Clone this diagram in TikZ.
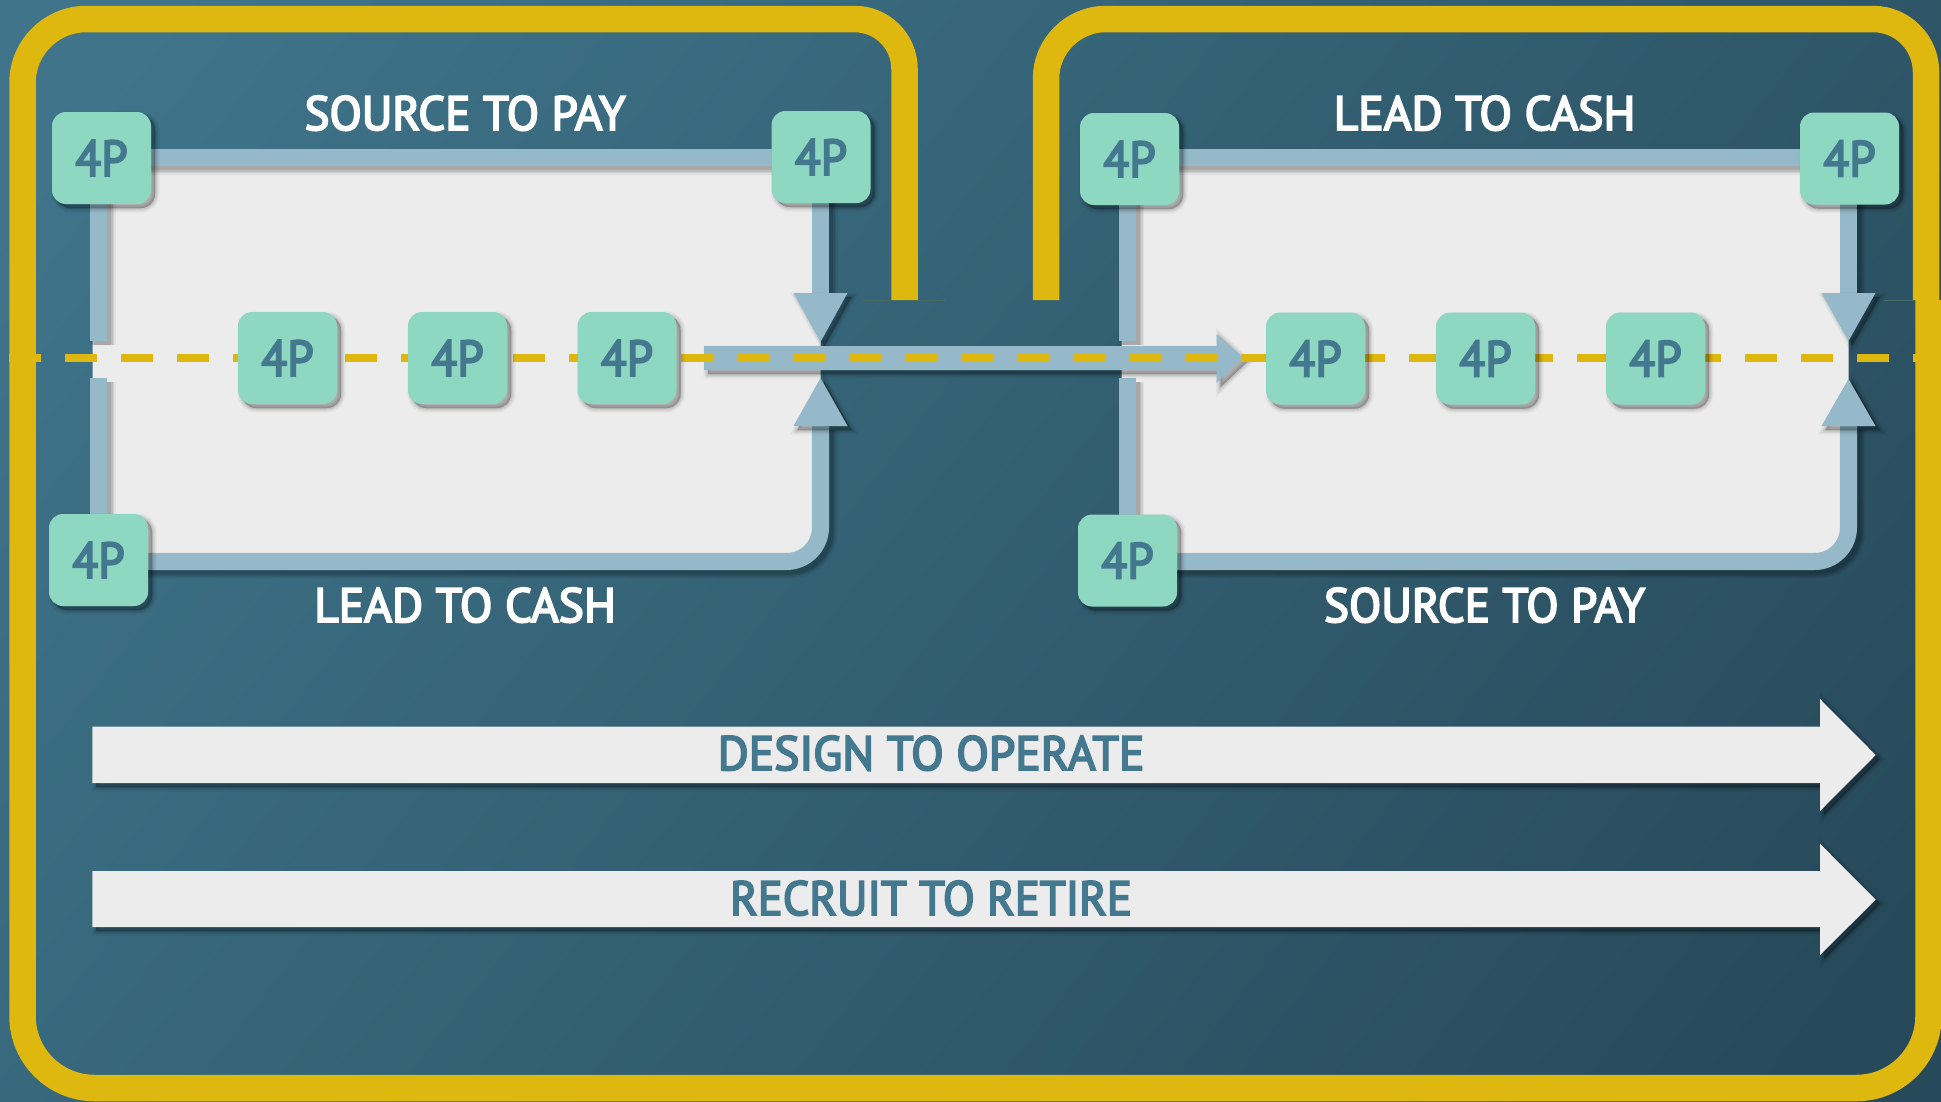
\documentclass[tikz,border=0pt]{standalone}
\usepackage{fontspec}
\setmainfont{PT Sans}
\newfontfamily\dinfont{PT Sans}[FakeBold=4]
\usetikzlibrary{calc}
\pgfdeclarelayer{back}
\pgfsetlayers{back,main}
\definecolor{ygold}{HTML}{DFB80F}
\definecolor{mint}{HTML}{8ED7C1}
\definecolor{steel}{HTML}{95B9C9}
\definecolor{paper}{HTML}{ECECEC}
\definecolor{ink}{HTML}{44788F}
\definecolor{bgA}{HTML}{3F748A}
\definecolor{bgB}{HTML}{3A6E83}
\definecolor{bgC}{HTML}{274A5A}
\definecolor{seamc}{HTML}{486A62}
\tikzset{
  softshadow/.style={
    preaction={draw=black,fill=black,opacity=.04,line width=9pt,transform canvas={shift={(4pt,-4pt)}}},
    preaction={draw=black,fill=black,opacity=.06,line width=6pt,transform canvas={shift={(4pt,-4pt)}}},
    preaction={draw=black,fill=black,opacity=.08,line width=3pt,transform canvas={shift={(4pt,-4pt)}}},
    preaction={draw=black,fill=black,opacity=.09,line width=.5pt,transform canvas={shift={(4pt,-4pt)}}}},
  lineshadow/.style={
    preaction={draw=black,opacity=.05,line width=26pt,transform canvas={shift={(4pt,-4pt)}}},
    preaction={draw=black,opacity=.07,line width=23pt,transform canvas={shift={(4pt,-4pt)}}},
    preaction={draw=black,opacity=.09,line width=20pt,transform canvas={shift={(4pt,-4pt)}}},
    preaction={draw=black,opacity=.10,line width=17.5pt,transform canvas={shift={(4pt,-4pt)}}}},
  pbox/.style={fill=mint,rounded corners=14pt,minimum width=99pt,minimum height=92pt,inner sep=0pt,outer sep=0pt,softshadow,
    text=ink,font=\fontsize{50}{56}\dinfont\selectfont},
  frameline/.style={draw=ygold,line width=26.5pt},
  flowline/.style={draw=steel,line width=17pt,lineshadow},
  heading/.style={anchor=base,text=white,inner sep=0pt,font=\fontsize{48}{56}\dinfont\selectfont},
  bandlabel/.style={anchor=base,text=ink,inner sep=0pt,font=\fontsize{48}{56}\dinfont\selectfont},
  headfill/.style={fill=steel,softshadow},
  bandfill/.style={fill=paper,softshadow},
  seam/.style={draw=seamc,line width=1pt},
}
\newcommand{\fourp}{\raisebox{-1.5pt}{\scalebox{.95}[1]{4P}}}
\begin{document}
\begin{tikzpicture}[x=1pt,y=-1pt]
\useasboundingbox (0,0) rectangle (1941,1101);
% boxes
\node[pbox] (ltl) at (101.5,158) {\fourp};
\node[pbox] (ltr) at (821,157) {\fourp};
\node[pbox] (lbl) at (98.5,560) {\fourp};
\node[pbox] (la) at (287.5,358) {\fourp};
\node[pbox] (lb) at (457.5,358) {\fourp};
\node[pbox] (lc) at (627,358) {\fourp};
\node[pbox] (rtl) at (1129.5,159) {\fourp};
\node[pbox] (rtr) at (1849.5,158.5) {\fourp};
\node[pbox] (rbl) at (1127.5,560.5) {\fourp};
\node[pbox] (ra) at (1315.5,358.5) {\fourp};
\node[pbox] (rb) at (1485.5,358.5) {\fourp};
\node[pbox] (rc) at (1655.5,358.5) {\fourp};
% labels
\node[heading] (t1) at (465,130) {\scalebox{.98}[1]{SOURCE TO PAY}};
\node[heading] (t2) at (1484.5,130) {\scalebox{.99}[1]{LEAD TO CASH}};
\node[heading] (t3) at (465,622) {\scalebox{.99}[1]{LEAD TO CASH}};
\node[heading] (t4) at (1484.5,622) {\scalebox{.98}[1]{SOURCE TO PAY}};
\node[bandlabel] (t5) at (931,770) {\scalebox{.99}[1]{DESIGN TO OPERATE}};
\node[bandlabel] (t6) at (931,915) {\scalebox{.97}[1]{RECRUIT TO RETIRE}};
% named points
\coordinate (yT) at (0,157.5);
\coordinate (yB) at (0,561.5);
\coordinate (tipLa) at (820.5,342);
\coordinate (tipLb) at (820.5,378);
\coordinate (tipRa) at (1848.5,341);
\coordinate (tipRb) at (1848.5,379);
\coordinate (gapLa) at (98.5,341);
\coordinate (gapLb) at (98.5,378);
\coordinate (gapRa) at (1127,341);
\coordinate (gapRb) at (1127,378);
\coordinate (dashA) at (9,358);
\coordinate (dashB) at (1941,358);
\begin{pgfonlayer}{back}
  \begin{scope}
    \clip (0,0) rectangle (1941,1101);
    \shade[left color=bgA,middle color=bgB,right color=bgC,shading angle=52] (0,-420) rectangle (1941,1521);
  \end{scope}
  % paper panels
  \fill[paper,rounded corners=34pt] (92.7,157) -- (820.5,157) -- (820.5,561) -- (92.7,561) -- cycle;
  \fill[paper,rounded corners=34pt] (1121.5,157) -- (1848.5,157) -- (1848.5,561) -- (1121.5,561) -- cycle;
  % yellow frames
  \draw[frameline] (904.5,300) [rounded corners=50pt] -- (904.5,19) [rounded corners=64pt] -- (22.5,19) [rounded corners=72pt] -- (22.5,1088) -- (1928.5,1088) [sharp corners] -- (1928.5,300);
  \draw[frameline] (1046,300) [rounded corners=60pt] -- (1046,19) [rounded corners=53pt] -- (1926,19) [sharp corners] -- (1926,300);
  \draw[seam] (862.6,300) -- (891,300) (918,300) -- (946,300) (1884,300) -- (1913,300);
  % connectors
  \draw[flowline] (ltl |- yT) -- (ltr |- yT);
  \draw[flowline] (rtl |- yT) -- (rtr |- yT);
  \draw[flowline] (gapLa |- ltl) -- (gapLa);
  \draw[flowline] (lbl) -- (gapLb);
  \draw[flowline] (gapRa |- rtl) -- (gapRa);
  \draw[flowline] (gapRb |- rbl) -- (gapRb);
  \draw[flowline] (tipLa |- ltr) -- ($(tipLa)+(0,-49)$);
  \draw[flowline] (tipRa |- rtr) -- ($(tipRa)+(0,-48)$);
  \draw[flowline,rounded corners=34pt] (lbl |- yB) -| ($(tipLb)+(0,48)$);
  \draw[flowline,rounded corners=34pt] (rbl |- yB) -| ($(tipRb)+(0,47)$);
  % arrow heads
  \path[headfill] (tipLa) -- ++(-27,-49) -- ++(54,0) -- cycle;
  \path[headfill] (tipLb) -- ++(-27,48) -- ++(54,0) -- cycle;
  \path[headfill] (tipRa) -- ++(-27,-48) -- ++(54,0) -- cycle;
  \path[headfill] (tipRb) -- ++(-27,47) -- ++(54,0) -- cycle;
  % horizontal bar arrow
  \path[headfill] (704,346) -- (1216.6,346) -- (1216.6,334) -- (1243,358) -- (1216.6,383) -- (1216.6,370) -- (704,370) -- cycle;
  % dashed line
  \draw[draw=ygold,line width=8pt,dash pattern=on 32pt off 24pt] (dashA) -- (dashB);
  % big arrows
  \path[bandfill] (92.4,726.7) -- (1820,726.7) -- (1820,699) -- (1875.7,755) -- (1820,811) -- (1820,783) -- (92.4,783) -- cycle;
  \path[bandfill] (92.4,871) -- (1820,871) -- (1820,843.7) -- (1875.7,899.7) -- (1820,955) -- (1820,927) -- (92.4,927) -- cycle;
\end{pgfonlayer}
\end{tikzpicture}
\end{document}
